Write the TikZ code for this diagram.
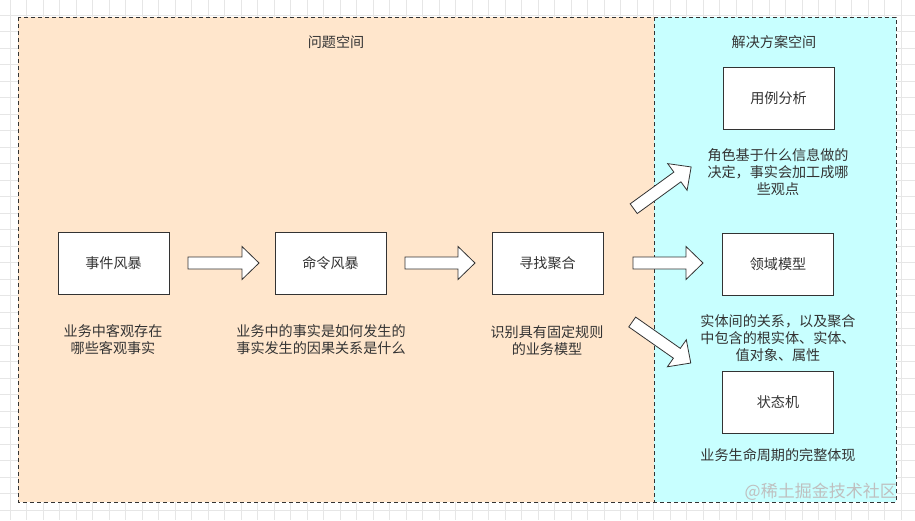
\documentclass[tikz,border=0pt]{standalone}
\usepackage{fontspec}
\newfontfamily\cjk{Noto Sans CJK SC}
\definecolor{peach}{HTML}{FFE6CC}
\definecolor{lcyan}{HTML}{C8FFFF}
\definecolor{ink}{HTML}{333333}
\definecolor{gridc}{HTML}{E6E6E6}
\tikzset{
  txt/.style={font=\cjk\fontsize{14.1}{17}\selectfont, text=ink, align=center, inner sep=0pt},
  stepbox/.style={txt, draw=ink, fill=white, line width=0.8pt, minimum width=111, minimum height=62},
  barrow/.style={draw=ink, fill=white, line width=0.8pt, line join=miter},
  frame/.style={draw=ink, line width=0.8pt, dash pattern=on 4pt off 3pt},
  gridline/.style={draw=gridc, line width=0.6pt}
}
\newcommand\blockarrow[3]{%
  \begin{scope}[shift={#1},rotate=#2]
    \draw[barrow] (0,-6) -- ({#3-17},-6) -- ({#3-17},-16.5) -- (#3,0) -- ({#3-17},16.5) -- ({#3-17},6) -- (0,6) -- cycle;
  \end{scope}}
\begin{document}
\begin{tikzpicture}[x=1pt,y=-1pt]
\useasboundingbox (0,0) rectangle (915,520);
\fill[white] (0,0) rectangle (915,520);
% grid
\foreach \x in {10.2,26.7,...,915} \draw[gridline] (\x,0) -- (\x,520);
\foreach \y in {15.2,31.7,...,520} \draw[gridline] (0,\y) -- (915,\y);
% panels
\fill[peach] (18,17) rectangle (654,502);
\fill[lcyan] (654,17) rectangle (896,502);
\draw[frame] (18,17) rectangle (896,502);
\draw[frame] (654,17) -- (654,502);
% titles
\node[txt] (p) at (336,42) {问题空间};
\node[txt] (q) at (774,42) {解决方案空间};
% boxes
\node[stepbox] (e1) at (113.5,263.5) {事件风暴};
\node[stepbox] (e2) at (330.5,263.5) {命令风暴};
\node[stepbox] (e3) at (547.5,263.5) {寻找聚合};
\node[stepbox] (s1) at (778.5,98) {用例分析};
\node[stepbox] (s2) at (778,264) {领域模型};
\node[stepbox] (s3) at (778,402) {状态机};
% descriptions
\node[txt] (t1) at (113,340) {业务中客观存在\\哪些客观事实};
\node[txt] (t2) at (321,340) {业务中的事实是如何发生的\\事实发生的因果关系是什么};
\node[txt] (t3) at (547,341) {识别具有固定规则\\的业务模型};
\node[txt] (t4) at (778,172) {角色基于什么信息做的\\决定，事实会加工成哪\\些观点};
\node[txt] (t5) at (778,338) {实体间的关系，以及聚合\\中包含的根实体、实体、\\值对象、属性};
\node[txt] (t6) at (778,455) {业务生命周期的完整体现};
% block arrows
\blockarrow{(188,263)}{0}{71}
\blockarrow{(405,263)}{0}{70}
\blockarrow{(633,263)}{0}{70}
\blockarrow{(633.7,208.7)}{36}{71}
\blockarrow{(632.2,322)}{-35}{71.5}
% watermark
\node[txt, font=\cjk\fontsize{17}{20}\selectfont, text=gray!50, anchor=east] (w) at (897,492) {@稀土掘金技术社区};
\end{tikzpicture}
\end{document}
